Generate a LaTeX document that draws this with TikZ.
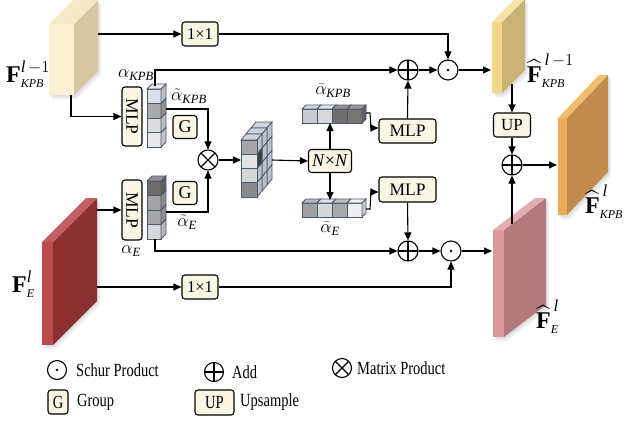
\RequirePackage{fix-cm}
\documentclass[tikz,border=0pt]{standalone}
\usepackage{fontspec}
\setmainfont{Liberation Serif}
\usepackage{amsmath}
\usetikzlibrary{arrows.meta,calc}

\definecolor{cream}{HTML}{FAF6E4}
\definecolor{cellb}{HTML}{4B5A6E}
\definecolor{ka}{HTML}{DDE0E6}\definecolor{kb}{HTML}{A9A9AB}\definecolor{kc}{HTML}{DCDCDF}\definecolor{kd}{HTML}{E8E8EC}
\definecolor{ea}{HTML}{6F6B6B}\definecolor{eb}{HTML}{A3A3A5}\definecolor{ec}{HTML}{A6A6A8}\definecolor{ed}{HTML}{D7D7DB}
\definecolor{ra}{HTML}{C9CBD0}\definecolor{rb}{HTML}{D7D9DD}\definecolor{rc}{HTML}{716D6D}\definecolor{rd}{HTML}{7A7575}
\definecolor{sa}{HTML}{A0A0A3}\definecolor{sb}{HTML}{D5D7DB}\definecolor{sc}{HTML}{A9A9AC}\definecolor{sd}{HTML}{EEEEF0}
\definecolor{ma}{HTML}{A6A6A8}\definecolor{mb}{HTML}{E4E4E6}\definecolor{mc}{HTML}{D6D6D8}\definecolor{md}{HTML}{8A8A8C}
\definecolor{msd}{HTML}{BCC0C8}

\newcommand\lgtext[1]{\scalebox{1}[1.28]{\fontsize{14.5}{15}\selectfont #1}}
\newcommand\bsub[1]{{\scriptscriptstyle\text{\itshape #1}}}
\newcommand\bsup[1]{{\scriptstyle\text{\itshape #1}}}

% slab: x y w h dx du front side top (HTML colours)
\newcommand\slab[9]{%
  \definecolor{slf}{HTML}{#7}\definecolor{sls}{HTML}{#8}\definecolor{slt}{HTML}{#9}%
  \fill[black,opacity=0.06] (#1+3,#2+#4+4) -- (#1+3,#2+4) -- (#1+#5+3,#2-#6+4) -- (#1+#3+#5+3,#2-#6+4) -- (#1+#3+#5+3,#2+#4-#6+4) -- (#1+#3+3,#2+#4+4) -- cycle;
  \fill[black,opacity=0.06] (#1+1.5,#2+#4+2) -- (#1+1.5,#2+2) -- (#1+#5+1.5,#2-#6+2) -- (#1+#3+#5+1.5,#2-#6+2) -- (#1+#3+#5+1.5,#2+#4-#6+2) -- (#1+#3+1.5,#2+#4+2) -- cycle;
  \fill[slf] (#1,#2) rectangle (#1+#3,#2+#4);
  \fill[sls] (#1+#3,#2) -- (#1+#3+#5,#2-#6) -- (#1+#3+#5,#2+#4-#6) -- (#1+#3,#2+#4) -- cycle;
  \fill[slt] (#1,#2) -- (#1+#3,#2) -- (#1+#3+#5,#2-#6) -- (#1+#5,#2-#6) -- cycle;
}
% vertical column of 4 cells: x y colors
\newcommand\vcolumn[3]{%
  \foreach \c [count=\i from 0] in {#3}{%
    \pgfmathsetmacro\yy{#2+14.5*\i}
    \draw[cell, fill=\c] (#1,\yy) rectangle ++(14,14.5);
    \draw[cell, fill=\c!85!black] (#1+14,\yy) -- ++(5,-5) -- ++(0,14.5) -- ++(-5,5) -- cycle;
    \ifnum\i=0 \draw[cell, fill=\c!75!white] (#1,\yy) -- ++(14,0) -- ++(5,-5) -- ++(-14,0) -- cycle;\fi
  }%
}
% horizontal row of 4 cells
\newcommand\hrow[3]{%
  \foreach \c [count=\i from 0] in {#3}{%
    \pgfmathsetmacro\xx{#1+15*\i}
    \draw[cell, fill=\c] (\xx,#2) rectangle ++(15,14);
    \draw[cell, fill=\c!75!white] (\xx,#2) -- ++(15,0) -- ++(4,-4) -- ++(-15,0) -- cycle;
    \ifnum\i=3 \draw[cell, fill=\c!85!black] (\xx+15,#2) -- ++(4,-4) -- ++(0,14) -- ++(-4,4) -- cycle;\fi
  }%
}

\tikzset{
  box/.style={draw, line width=1.1pt, rounded corners=3pt, fill=cream, inner sep=1pt},
  op/.style={draw, circle, line width=1.1pt, fill=white, minimum size=20pt, inner sep=0pt},
  addop/.style={op, path picture={\draw[black, line width=1.1pt] (path picture bounding box.north) -- (path picture bounding box.south) (path picture bounding box.west) -- (path picture bounding box.east);}},
  mulop/.style={op, path picture={\draw[black, line width=1.1pt] (path picture bounding box.north west) -- (path picture bounding box.south east) (path picture bounding box.north east) -- (path picture bounding box.south west);}},
  schop/.style={op, path picture={\fill[black] (path picture bounding box.center) circle (1.4pt);}},
  conn/.style={line width=1.1pt, -{Triangle[length=8pt,width=7pt]}},
  cell/.style={draw=cellb, line width=0.8pt},
  lbl/.style={inner sep=0pt},
  bigl/.style={lbl, anchor=base west, font=\fontsize{24}{24}\selectfont},
  ml/.style={lbl, font=\fontsize{18}{18}\selectfont},
}

\begin{document}
\begin{tikzpicture}[x=1pt,y=-1pt]
\useasboundingbox (0,0) rectangle (626,421);
\fill[white] (0,0) rectangle (626,421);

% slabs
\slab{49}{24}{25}{71}{24}{24}{FCF0D2}{D6C6A1}{F5E8C6}
\slab{42}{242}{11}{103}{44}{44}{BA4A4C}{8C2F31}{C45E5E}
\begin{scope}
\clip (0,0) rectangle (626,421);
\slab{492}{22}{10}{71}{23}{23}{F3D68A}{C9B274}{F7E2A6}
\end{scope}
\slab{558}{118}{9}{97}{41}{43}{EBAA56}{C08B4C}{F1BC6E}
\slab{493}{230}{11}{107}{42}{32}{D99A9C}{B27A7A}{E3AEAE}

\coordinate (fk-r) at (98,34);
\coordinate (fk-b) at (71,95);
\coordinate (fe-r1) at (97,210);
\coordinate (fe-r2) at (97,287);
\coordinate (hk1-l) at (491,70);
\coordinate (hk1-b) at (512,84);
\coordinate (hk2-l) at (557,165);
\coordinate (he-l) at (492,251);
\coordinate (he-t) at (512,224);

% labels of slabs
\node[bigl] (lfk) at (6,82) {$\text{\bfseries F}^{\bsup{l}\,\scriptstyle -1}_{\bsub{KPB}}$};
\node[bigl] (lfe) at (12,292) {$\text{\bfseries F}^{\bsup{l}}_{\bsub{E}}$};
\node[bigl] (lhk1) at (527,82) {$\widehat{\text{\bfseries F}}^{\,\bsup{l}\,\scriptstyle -1}_{\bsub{KPB}}$};
\node[bigl] (lhk2) at (585,213) {$\widehat{\text{\bfseries F}}^{\,\bsup{l}}_{\bsub{KPB}}$};
\node[bigl] (lhe) at (536,328) {$\widehat{\text{\bfseries F}}^{\,\bsup{l}}_{\bsub{E}}$};

% columns
\vcolumn{147}{89}{ka,kb,kc,kd}
\vcolumn{147}{181}{ea,eb,ec,ed}
\coordinate (akpb-top) at (155,86);
\coordinate (akpb-r) at (166,109);
\coordinate (ae-r) at (166,212);
\coordinate (ae-bot) at (155,239);

% rows
\hrow{302}{109}{ra,rb,rc,rd}
\hrow{302}{203}{sa,sb,sc,sd}
\coordinate (rk-r) at (366,113);
\coordinate (rk-b) at (330,123);
\coordinate (re-t) at (330,200);
\coordinate (re-r) at (366,209);
\coordinate (k1) at (371,128);
\coordinate (k2) at (371,192);

% cube matrix
\foreach \k in {2,1,0}{
  \draw[cell, fill=msd!70!white] (241+5*\k,140-6*\k) -- ++(16,0) -- ++(5,-6) -- ++(-16,0) -- cycle;
  \foreach \j in {0,1,2,3}{
    \pgfmathsetmacro\yy{140-6*\k+14.25*\j}
    \draw[cell, fill=msd] (257+5*\k,\yy) -- ++(5,-6) -- ++(0,14.25) -- ++(-5,6) -- cycle;
  }
}
\draw[cell, fill=black!75] (257,154.25) -- ++(5,-6) -- ++(0,14.25) -- ++(-5,6) -- cycle;
\foreach \c [count=\i from 0] in {ma,mb,mc,md}{
  \draw[cell, fill=\c] (241,140+14.25*\i) rectangle ++(16,14.25);
}
\coordinate (cube-l) at (241,160);
\coordinate (cube-r) at (272,160);

% boxes
\node[box, minimum width=36pt, minimum height=24pt, font=\fontsize{16.5}{17}\selectfont] (c11a) at (200,34) {1×1};
\node[box, minimum width=36pt, minimum height=24pt, font=\fontsize{16.5}{17}\selectfont] (c11b) at (200,287) {1×1};
\node[box, minimum width=20pt, minimum height=59pt, font=\fontsize{17.5}{18}\selectfont] (mlp1) at (132,116.5) {\rotatebox{-90}{MLP}};
\node[box, minimum width=20pt, minimum height=60pt, font=\fontsize{17.5}{18}\selectfont] (mlp2) at (132,210) {\rotatebox{-90}{MLP}};
\node[box, minimum width=24pt, minimum height=23pt, font=\fontsize{18}{18}\selectfont] (g1) at (185,127) {G};
\node[box, minimum width=24pt, minimum height=23pt, font=\fontsize{18}{18}\selectfont] (g2) at (185,193) {G};
\node[box, minimum width=43pt, minimum height=23pt, font=\fontsize{18}{18}\selectfont] (nn) at (330,161) {\textit{N}×\textit{N}};
\node[box, minimum width=57pt, minimum height=24pt, font=\fontsize{17.5}{18}\selectfont] (mlp3) at (407.5,131) {MLP};
\node[box, minimum width=57pt, minimum height=25pt, font=\fontsize{17.5}{18}\selectfont] (mlp4) at (407.5,189.5) {MLP};
\node[box, minimum width=37pt, minimum height=24pt, font=\fontsize{17}{17}\selectfont] (up) at (512,125) {UP};

% operators
\node[mulop] (mul) at (208,160) {};
\node[addop] (add1) at (408,70) {};
\node[schop] (sch1) at (448,70) {};
\node[addop] (add2) at (408,251) {};
\node[schop] (sch2) at (451,251) {};
\node[addop] (add3) at (512,165) {};

% math labels
\node[ml] (lak) at (136,75) {$\alpha_{\text{\itshape KPB}}$};
\node[ml] (latk) at (189,96) {$\tilde{\alpha}_{\text{\itshape KPB}}$};
\node[ml] (late) at (187,222) {$\tilde{\alpha}_{\text{\itshape E}}$};
\node[ml] (lae) at (131,251) {$\alpha_{\text{\itshape E}}$};
\node[ml] (lbk) at (333,91) {$\bar{\alpha}_{\text{\itshape KPB}}$};
\node[ml] (lbe) at (330,229) {$\bar{\alpha}_{\text{\itshape E}}$};

% connectors
\draw[conn] (fk-r) -- (c11a.west);
\draw[conn] (c11a.east) -| (sch1.north);
\draw[conn] (fk-b) |- (mlp1.west);
\draw[conn] (fe-r1) -- (mlp2.west);
\draw[conn] (fe-r2) -- (c11b.west);
\draw[conn] (c11b.east) -| (sch2.south);
\draw[conn] (akpb-top) |- (add1.west);
\draw[conn] (akpb-r) -| (mul.north);
\draw[conn] (ae-r) -| (mul.south);
\draw[conn] (ae-bot) |- (add2.west);
\draw[conn] (mul.east) -- (cube-l);
\draw[conn] (cube-r) -- (nn.west);
\draw[conn] (nn.north) -- (rk-b);
\draw[conn] (nn.south) -- (re-t);
\draw[conn] (rk-r) -- ++(4,0) -- (k1) -- (mlp3.west |- k1);
\draw[conn] (re-r) -- ++(4,0) -- (k2) -- (mlp4.west |- k2);
\draw[conn] (mlp3.north) -- (add1.south);
\draw[conn] (mlp4.south) -- (add2.north);
\draw[conn] (add1.east) -- (sch1.west);
\draw[conn] (sch1.east) -- (hk1-l);
\draw[conn] (add2.east) -- (sch2.west);
\draw[conn] (sch2.east) -- (he-l);
\draw[conn] (hk1-b) -- (up.north);
\draw[conn] (up.south) -- (add3.north);
\draw[conn] (he-t) -- (add3.south);
\draw[conn] (add3.east) -- (hk2-l);

% legend
\node[schop, minimum size=19pt] (lsch) at (57,370) {};
\node[lbl, anchor=west] (tsch) at (76,370) {\lgtext{Schur Product}};
\node[addop, minimum size=19pt] (ladd) at (214,372) {};
\node[lbl, anchor=west] (tadd) at (232,372) {\lgtext{Add}};
\node[mulop, minimum size=19pt] (lmul) at (342,368) {};
\node[lbl, anchor=west] (tmul) at (357,368) {\lgtext{Matrix Product}};
\node[box, minimum width=20pt, minimum height=24pt] (lg) at (58,402) {\lgtext{G}};
\node[lbl, anchor=west] (tg) at (77,402) {\lgtext{Group}};
\node[box, minimum width=39pt, minimum height=25pt] (lup) at (214.5,402.5) {\lgtext{UP}};
\node[lbl, anchor=west] (tup) at (240,402) {\lgtext{Upsample}};
\end{tikzpicture}
\end{document}
